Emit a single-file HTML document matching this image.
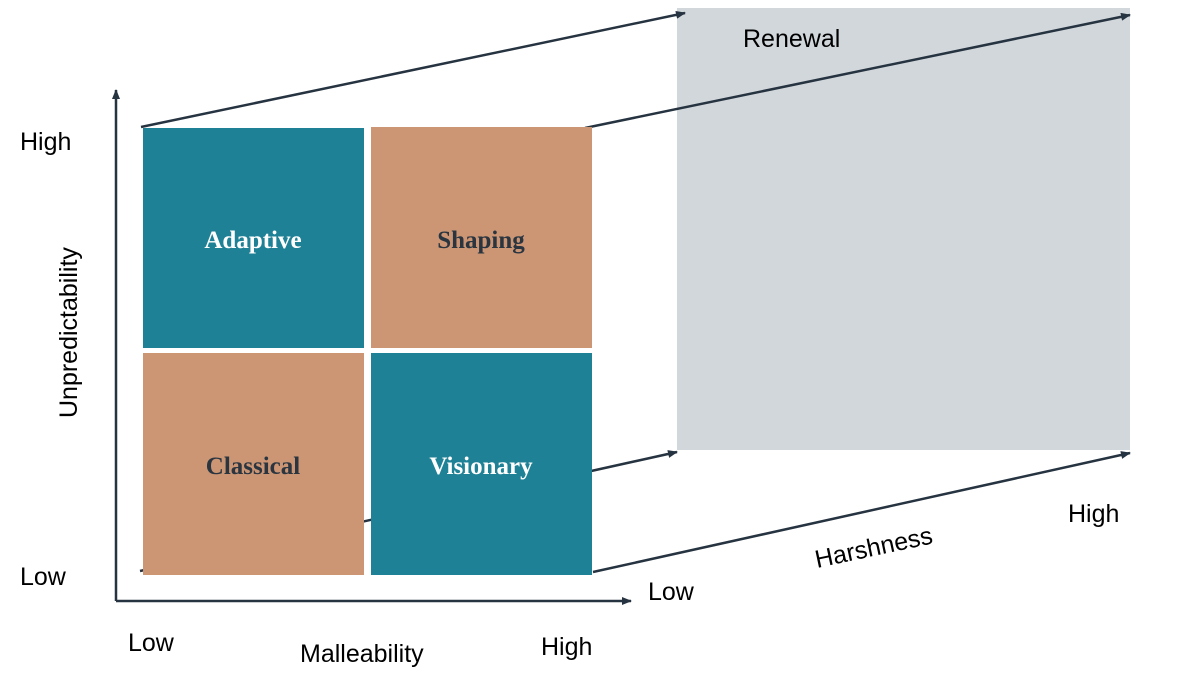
<!DOCTYPE html>
<html><head><meta charset="utf-8"><style>
body{margin:0;background:#fff;}
svg{display:block;}
</style></head><body>
<svg width="1185" height="687" viewBox="0 0 1185 687" xmlns="http://www.w3.org/2000/svg">
<defs><marker id="a" markerWidth="10" markerHeight="8" refX="9" refY="4" orient="auto" markerUnits="userSpaceOnUse"><path d="M0,0 L10,4 L0,8 z" fill="#263340"/></marker></defs>
<rect x="677" y="8" width="453" height="442" fill="#d2d7db"/>
<g stroke="#263340" stroke-width="2.5" fill="none">
<line x1="141" y1="127" x2="685" y2="13" marker-end="url(#a)"/>
<line x1="585" y1="128" x2="1130" y2="15" marker-end="url(#a)"/>
<line x1="593" y1="572" x2="1130" y2="453" marker-end="url(#a)"/>
<line x1="140" y1="571" x2="677" y2="452" marker-end="url(#a)"/>
<line x1="116" y1="601" x2="116" y2="90" marker-end="url(#a)"/>
<line x1="116" y1="601" x2="631" y2="601" marker-end="url(#a)"/>
</g>
<rect x="143" y="128" width="221" height="220" fill="#1f8196"/>
<rect x="371" y="127" width="221" height="221" fill="#cc9675"/>
<rect x="143" y="353" width="221" height="222" fill="#cc9675"/>
<rect x="371" y="353" width="221" height="222" fill="#1f8196"/>
<g font-family="Liberation Serif, serif" font-weight="bold" font-size="25" text-anchor="middle">
<text x="253" y="248" fill="#fff">Adaptive</text>
<text x="481" y="248" fill="#2a3540">Shaping</text>
<text x="253" y="474" fill="#2a3540">Classical</text>
<text x="481" y="474" fill="#fff">Visionary</text>
</g>
<g font-family="Liberation Sans, sans-serif" font-size="25" fill="#000">
<text x="20" y="150">High</text>
<text x="20" y="585">Low</text>
<text x="128" y="651">Low</text>
<text x="300" y="662">Malleability</text>
<text x="541" y="655">High</text>
<text x="648" y="600">Low</text>
<text x="1068" y="522">High</text>
<text x="743" y="47">Renewal</text>
<text transform="translate(77,418) rotate(-90)">Unpredictability</text>
<text transform="translate(817,568) rotate(-12)">Harshness</text>
</g>
</svg>
</body></html>
